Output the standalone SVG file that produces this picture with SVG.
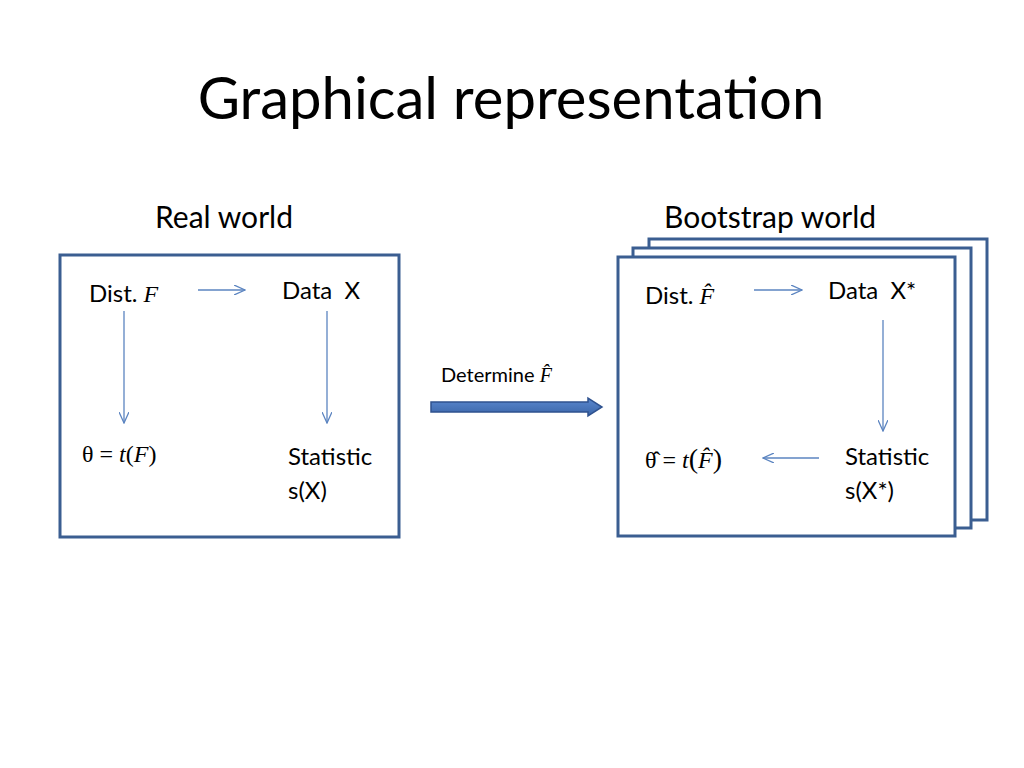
<svg xmlns="http://www.w3.org/2000/svg" width="1024" height="768" viewBox="0 0 1024 768">
<style>
.t{font-family:Lato,"Liberation Sans",sans-serif;fill:#000}
.m{font-family:"Liberation Serif",serif;font-style:italic}
.s{font-family:"Liberation Serif",serif}
.frame{fill:#fff;stroke:#3b5e91;stroke-width:3}
.c{stroke:#5b84c0;stroke-width:1.3;fill:none;marker-end:url(#a)}
</style>
<defs>
<marker id="a" markerWidth="12" markerHeight="10" refX="11" refY="5" orient="auto" markerUnits="userSpaceOnUse">
<path d="M0,0 L11,5 L0,10" fill="none" stroke="#5b84c0" stroke-width="1.3"/>
</marker>
<linearGradient id="g" x1="0" y1="0" x2="0" y2="1"><stop offset="0" stop-color="#5b88cf"/><stop offset="1" stop-color="#3a65a8"/></linearGradient>
</defs>
<rect width="1024" height="768" fill="#fff"/>
<text class="t" x="511" y="119" font-size="58" text-anchor="middle">Graphical representation</text>
<text class="t" x="224" y="228" font-size="30" text-anchor="middle">Real world</text>
<text class="t" x="770" y="228" font-size="30" text-anchor="middle">Bootstrap world</text>
<g id="real">
<rect class="frame" x="60" y="255" width="339" height="282"/>
<text class="t" x="89" y="302" font-size="24">Dist. <tspan class="m">F</tspan></text>
<text class="t" x="282" y="299" font-size="24" xml:space="preserve">Data  X</text>
<text class="s" x="82" y="462" font-size="24">θ = <tspan class="m">t</tspan>(<tspan class="m">F</tspan>)</text>
<text class="t" x="288" y="465" font-size="24">Statistic</text>
<text class="t" x="288" y="499" font-size="24">s(X)</text>
</g>
<g id="boot">
<rect class="frame" x="649" y="239" width="338" height="281"/>
<rect class="frame" x="633" y="248" width="338" height="280"/>
<rect class="frame" x="618" y="257" width="337" height="279"/>
<text class="t" x="645" y="304" font-size="24">Dist. <tspan class="m">F̂</tspan></text>
<text class="t" x="828" y="299" font-size="24" xml:space="preserve">Data  X*</text>
<text class="s" x="645" y="468" font-size="24">θ̂ = <tspan class="m">t</tspan><tspan font-size="28">(</tspan><tspan class="m">F̂</tspan><tspan font-size="28">)</tspan></text>
<text class="t" x="845" y="465" font-size="24">Statistic</text>
<text class="t" x="845" y="499" font-size="24">s(X*)</text>
</g>
<g id="mid">
<text class="t" x="441" y="382" font-size="20">Determine <tspan class="m">F̂</tspan></text>
<path d="M431,402 H588 V398 L602,407 L588,416 V412 H431 Z" fill="url(#g)" stroke="#2f528f" stroke-width="1.5"/>
</g>
<g id="connectors">
<line class="c" x1="198" y1="290" x2="245" y2="290"/>
<line class="c" x1="124" y1="311" x2="124" y2="423"/>
<line class="c" x1="327" y1="311" x2="327" y2="423"/>
<line class="c" x1="754" y1="290" x2="802" y2="290"/>
<line class="c" x1="883" y1="320" x2="883" y2="431"/>
<line class="c" x1="819" y1="458" x2="763" y2="458"/>
</g>
</svg>
